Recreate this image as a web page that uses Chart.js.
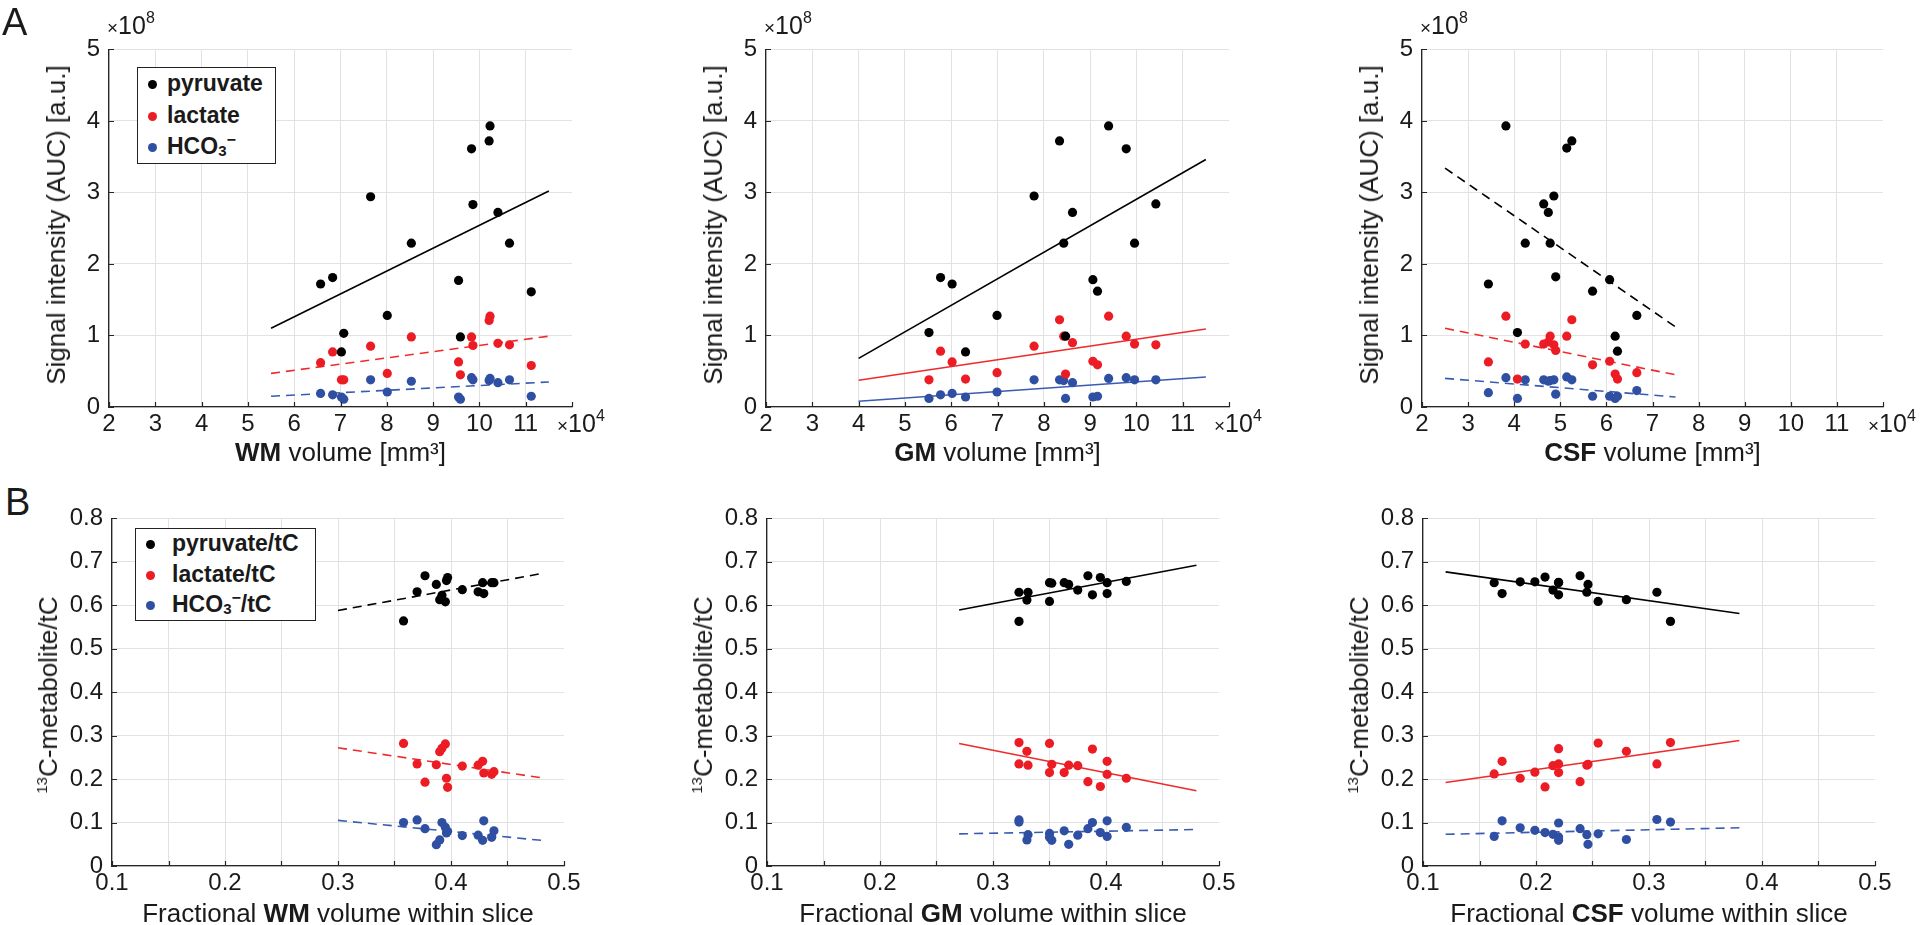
<!DOCTYPE html>
<html>
<head>
<meta charset="utf-8">
<script src="https://cdn.jsdelivr.net/npm/chart.js@4.4.1/dist/chart.umd.min.js"></script>
<style>
  body { margin: 0; background: #fff; width: 1920px; height: 925px; position: relative; overflow: hidden;
         font-family: "Liberation Sans", Arial, sans-serif; color: #1a1a1a; }
  canvas { position: absolute; }
  .txt { position: absolute; white-space: nowrap; line-height: 1; }
  .legend { position: absolute; border: 1.5px solid #222; background: #fff; box-sizing: border-box; }
  .legend div { position: absolute; white-space: nowrap; font-weight: bold; font-size: 23px; line-height: 1; }
  .dot { position: absolute; width: 9px; height: 9px; border-radius: 50%; }
</style>
</head>
<body>
<script>
'use strict';

// ---- panel A: absolute signal (x in 1e4 mm3, y in 1e8 a.u.) ----
const wmVol  = [6.57, 6.83, 7.02, 7.07, 7.65, 8.01, 8.53, 9.55, 9.59, 9.83, 9.86, 10.21, 10.23, 10.40, 10.65, 11.12];
const pyrWM  = [1.72, 1.81, 0.77, 1.03, 2.94, 1.28, 2.29, 1.77, 0.98, 3.61, 2.83, 3.72, 3.93, 2.72, 2.29, 1.61];
const lacWM  = [0.62, 0.77, 0.38, 0.38, 0.85, 0.47, 0.98, 0.63, 0.45, 0.98, 0.86, 1.21, 1.27, 0.89, 0.87, 0.58];
const bicWM  = [0.19, 0.17, 0.14, 0.11, 0.38, 0.21, 0.36, 0.14, 0.11, 0.41, 0.38, 0.37, 0.40, 0.34, 0.38, 0.15];

const gmVol  = [5.52, 5.77, 6.02, 6.31, 6.99, 7.79, 8.34, 8.43, 8.47, 8.62, 9.06, 9.16, 9.40, 9.78, 9.96, 10.42];
const pyrGM  = [1.04, 1.81, 1.72, 0.77, 1.28, 2.95, 3.72, 2.29, 0.99, 2.72, 1.78, 1.62, 3.93, 3.61, 2.29, 2.84];
const lacGM  = [0.38, 0.78, 0.63, 0.39, 0.48, 0.85, 1.22, 0.99, 0.46, 0.90, 0.64, 0.59, 1.27, 0.99, 0.88, 0.87];
const bicGM  = [0.12, 0.17, 0.19, 0.14, 0.21, 0.38, 0.38, 0.37, 0.12, 0.34, 0.14, 0.15, 0.40, 0.41, 0.38, 0.38];

const csfVol = [3.44, 3.82, 4.07, 4.24, 4.64, 4.74, 4.78, 4.86, 4.90, 5.14, 5.25, 5.70, 6.07, 6.19, 6.24, 6.66];
const pyrCSF = [1.72, 3.93, 1.04, 2.29, 2.84, 2.72, 2.29, 2.95, 1.82, 3.62, 3.72, 1.62, 1.78, 0.99, 0.78, 1.28];
const lacCSF = [0.63, 1.27, 0.39, 0.88, 0.88, 0.91, 0.99, 0.87, 0.79, 0.99, 1.22, 0.59, 0.64, 0.46, 0.39, 0.48];
const bicCSF = [0.20, 0.41, 0.12, 0.38, 0.38, 0.36, 0.37, 0.38, 0.18, 0.42, 0.38, 0.15, 0.15, 0.12, 0.15, 0.23];

// regression line end points
const fitWMx  = [5.5, 11.5];  const fitWMpyr  = [1.10, 3.02]; const fitWMlac  = [0.47, 0.99]; const fitWMbic  = [0.15, 0.35];
const fitGMx  = [4.0, 11.5];  const fitGMpyr  = [0.68, 3.46]; const fitGMlac  = [0.375, 1.09]; const fitGMbic = [0.08, 0.42];
const fitCSFx = [2.5, 7.5];   const fitCSFpyr = [3.34, 1.12]; const fitCSFlac = [1.10, 0.45]; const fitCSFbic = [0.40, 0.14];

// ---- panel B: fractions ----
const fracWM    = [0.358, 0.370, 0.377, 0.387, 0.390, 0.392, 0.395, 0.396, 0.397, 0.410, 0.424, 0.428, 0.429, 0.436, 0.438];
const pyrFracWM = [0.564, 0.631, 0.668, 0.648, 0.613, 0.623, 0.608, 0.657, 0.664, 0.636, 0.631, 0.652, 0.627, 0.652, 0.652];
const lacFracWM = [0.282, 0.235, 0.193, 0.233, 0.263, 0.271, 0.281, 0.202, 0.181, 0.230, 0.232, 0.241, 0.214, 0.211, 0.217];
const bicFracWM = [0.100, 0.106, 0.086, 0.049, 0.060, 0.100, 0.089, 0.076, 0.080, 0.070, 0.071, 0.059, 0.104, 0.066, 0.081];

const fracGM    = [0.323, 0.323, 0.330, 0.331, 0.350, 0.350, 0.352, 0.363, 0.367, 0.375, 0.384, 0.388, 0.395, 0.401, 0.401, 0.418];
const pyrFracGM = [0.563, 0.630, 0.612, 0.630, 0.609, 0.652, 0.651, 0.652, 0.648, 0.635, 0.668, 0.624, 0.664, 0.652, 0.627, 0.655];
const lacFracGM = [0.284, 0.235, 0.264, 0.232, 0.282, 0.215, 0.234, 0.215, 0.232, 0.231, 0.194, 0.269, 0.183, 0.241, 0.211, 0.202];
const bicFracGM = [0.106, 0.101, 0.060, 0.072, 0.075, 0.066, 0.059, 0.081, 0.050, 0.071, 0.086, 0.100, 0.077, 0.104, 0.068, 0.089];

const fracCSF    = [0.163, 0.170, 0.186, 0.199, 0.208, 0.215, 0.220, 0.220, 0.220, 0.239, 0.245, 0.246, 0.255, 0.280, 0.307, 0.319];
const pyrFracCSF = [0.652, 0.627, 0.654, 0.654, 0.665, 0.635, 0.653, 0.624, 0.652, 0.668, 0.630, 0.648, 0.609, 0.613, 0.630, 0.563];
const lacFracCSF = [0.212, 0.241, 0.202, 0.216, 0.182, 0.231, 0.235, 0.270, 0.215, 0.194, 0.232, 0.234, 0.283, 0.264, 0.235, 0.284];
const bicFracCSF = [0.068, 0.104, 0.088, 0.082, 0.077, 0.073, 0.099, 0.067, 0.059, 0.086, 0.072, 0.050, 0.074, 0.061, 0.107, 0.101];

const fitFWMx  = [0.30, 0.48]; const fitFWMpyr  = [0.588, 0.673]; const fitFWMlac  = [0.272, 0.203]; const fitFWMbic  = [0.105, 0.059];
const fitFGMx  = [0.27, 0.48]; const fitFGMpyr  = [0.589, 0.692]; const fitFGMlac  = [0.282, 0.173]; const fitFGMbic  = [0.074, 0.084];
const fitFCSFx = [0.12, 0.38]; const fitFCSFpyr = [0.677, 0.581]; const fitFCSFlac = [0.192, 0.289]; const fitFCSFbic = [0.073, 0.088];

// ---- ticks ----
const aXTicks  = [2, 3, 4, 5, 6, 7, 8, 9, 10, 11, 12];
const aXLabels = ['2', '3', '4', '5', '6', '7', '8', '9', '10', '11', ''];
const aYTicks  = [0, 1, 2, 3, 4, 5];
const aYLabels = ['0', '1', '2', '3', '4', '5'];
const bXTicks  = [0.1, 0.15, 0.2, 0.25, 0.3, 0.35, 0.4, 0.45, 0.5];
const bXLabels = ['0.1', '', '0.2', '', '0.3', '', '0.4', '', '0.5'];
const bYTicks  = [0, 0.1, 0.2, 0.3, 0.4, 0.5, 0.6, 0.7, 0.8];
const bYLabels = ['0', '0.1', '0.2', '0.3', '0.4', '0.5', '0.6', '0.7', '0.8'];

const dotColors  = ['#000000', '#ec1c24', '#2f4fa3'];
const lineColors = ['#000000', '#ee2b2b', '#3a5bb2'];

Chart.defaults.font.family = '"Liberation Sans", Arial, sans-serif';

const innerTicks = {
    id: 'innerTicks',
    afterDraw(chart) {
        const { ctx, chartArea: a, scales: { x, y } } = chart;
        ctx.save();
        ctx.strokeStyle = '#262626';
        ctx.lineWidth = 1.2;
        ctx.beginPath();
        x.ticks.forEach(t => {
            const px = Math.round(x.getPixelForValue(t.value)) + 0.5;
            ctx.moveTo(px, a.bottom); ctx.lineTo(px, a.bottom - 5);
        });
        y.ticks.forEach(t => {
            const py = Math.round(y.getPixelForValue(t.value)) + 0.5;
            ctx.moveTo(a.left, py); ctx.lineTo(a.left + 5, py);
        });
        ctx.stroke();
        ctx.restore();
    }
};

const makePanel = p => {
    const padL = 75, padT = 16, padR = 30, padB = 42;
    const [x0, y0, x1, y1] = p.rect;
    const cv = document.createElement('canvas');
    cv.width = x1 - x0 + padL + padR;
    cv.height = y1 - y0 + padT + padB;
    cv.style.left = (x0 - padL) + 'px';
    cv.style.top = (y0 - padT) + 'px';
    document.body.appendChild(cv);

    const datasets = [];
    p.ys.forEach((ys, i) => {
        datasets.push({
            type: 'scatter',
            data: p.x.map((x, j) => ({ x: x, y: ys[j] })),
            backgroundColor: dotColors[i],
            borderWidth: 0,
            pointRadius: 4.6,
            pointHoverRadius: 4.6
        });
    });
    p.fits.forEach((f, i) => {
        datasets.push({
            type: 'line',
            data: p.fitX.map((x, j) => ({ x: x, y: f[j] })),
            borderColor: lineColors[i],
            borderWidth: 1.6,
            borderDash: p.dash[i] ? [9, 6] : [],
            pointRadius: 0,
            fill: false
        });
    });

    const tickFont = { size: 24 };
    new Chart(cv, {
        type: 'scatter',
        data: { datasets: datasets },
        options: {
            responsive: false,
            animation: false,
            events: [],
            layout: { padding: { left: 0, top: padT, right: padR, bottom: 0 } },
            plugins: { legend: { display: false }, tooltip: { enabled: false } },
            scales: {
                x: {
                    type: 'linear',
                    min: p.xTicks[0],
                    max: p.xTicks[p.xTicks.length - 1],
                    afterBuildTicks: s => { s.ticks = p.xTicks.map(v => ({ value: v })); },
                    afterFit: s => { s.height = padB; },
                    ticks: {
                        autoSkip: false, maxRotation: 0, padding: 3,
                        color: '#1a1a1a', font: tickFont,
                        callback: (v, i) => p.xLabels[i]
                    },
                    grid: {
                        drawTicks: false,
                        lineWidth: 1,
                        color: c => (c.index === p.xTicks.length - 1 ? 'rgba(0,0,0,0)' : '#e2e2e2')
                    },
                    border: { color: '#262626', width: 1.3 }
                },
                y: {
                    type: 'linear',
                    min: p.yTicks[0],
                    max: p.yTicks[p.yTicks.length - 1],
                    afterBuildTicks: s => { s.ticks = p.yTicks.map(v => ({ value: v })); },
                    afterFit: s => { s.width = padL; },
                    ticks: {
                        autoSkip: false, padding: 9,
                        color: '#1a1a1a', font: tickFont,
                        callback: (v, i) => p.yLabels[i]
                    },
                    grid: { drawTicks: false, lineWidth: 1, color: '#e2e2e2' },
                    border: { color: '#262626', width: 1.3 }
                }
            }
        },
        plugins: [innerTicks]
    });
};

const addText = (html, x, y, style) => {
    const d = document.createElement('div');
    d.className = 'txt';
    d.innerHTML = html;
    d.style.left = x + 'px';
    d.style.top = y + 'px';
    Object.assign(d.style, style || {});
    document.body.appendChild(d);
    return d;
};

const aPanels = [
    { rect: [109, 42, 572, 407], x: wmVol,  ys: [pyrWM, lacWM, bicWM],    fitX: fitWMx,  fits: [fitWMpyr, fitWMlac, fitWMbic],    dash: [false, true, true],  tissue: 'WM' },
    { rect: [766, 42, 1229, 407], x: gmVol, ys: [pyrGM, lacGM, bicGM],    fitX: fitGMx,  fits: [fitGMpyr, fitGMlac, fitGMbic],    dash: [false, false, false], tissue: 'GM' },
    { rect: [1422, 42, 1883, 407], x: csfVol, ys: [pyrCSF, lacCSF, bicCSF], fitX: fitCSFx, fits: [fitCSFpyr, fitCSFlac, fitCSFbic], dash: [true, true, true], tissue: 'CSF' }
];
const bPanels = [
    { rect: [112, 511, 564, 866], x: fracWM,  ys: [pyrFracWM, lacFracWM, bicFracWM],    fitX: fitFWMx,  fits: [fitFWMpyr, fitFWMlac, fitFWMbic],    dash: [true, true, true],   tissue: 'WM' },
    { rect: [767, 511, 1219, 866], x: fracGM, ys: [pyrFracGM, lacFracGM, bicFracGM],    fitX: fitFGMx,  fits: [fitFGMpyr, fitFGMlac, fitFGMbic],    dash: [false, false, true], tissue: 'GM' },
    { rect: [1423, 511, 1875, 866], x: fracCSF, ys: [pyrFracCSF, lacFracCSF, bicFracCSF], fitX: fitFCSFx, fits: [fitFCSFpyr, fitFCSFlac, fitFCSFbic], dash: [false, false, true], tissue: 'CSF' }
];

const mult = n => '<span style="font-size:19px">×</span>10<span style="font-size:16px;position:relative;top:-11px">' + n + '</span>';

aPanels.forEach(p => {
    Object.assign(p, { xTicks: aXTicks, xLabels: aXLabels, yTicks: aYTicks, yLabels: aYLabels });
    makePanel(p);
    const [x0, y0, x1, y1] = p.rect;
    addText(mult(8), x0 - 2, 13, { fontSize: '25px' });
    addText(mult(4), x1 - 15, 411, { fontSize: '25px' });
    addText('<b>' + p.tissue + '</b> volume [mm³]', (x0 + x1) / 2, 452,
        { fontSize: '26px', transform: 'translate(-50%,-50%)' });
    addText('Signal intensity (AUC) [a.u.]', x0 - 53, (y0 + y1) / 2,
        { fontSize: '26px', transform: 'translate(-50%,-50%) rotate(-90deg)' });
});

bPanels.forEach(p => {
    Object.assign(p, { xTicks: bXTicks, xLabels: bXLabels, yTicks: bYTicks, yLabels: bYLabels });
    makePanel(p);
    const [x0, y0, x1, y1] = p.rect;
    addText('Fractional <b>' + p.tissue + '</b> volume within slice', (x0 + x1) / 2, 913,
        { fontSize: '26px', transform: 'translate(-50%,-50%)' });
    addText('<span style="font-size:15px;position:relative;top:-10px">13</span>C-metabolite/tC', x0 - 64, 695,
        { fontSize: '26px', transform: 'translate(-50%,-50%) rotate(-90deg)' });
});

// panel letters
addText('A', 2, 3, { fontSize: '38px' });
addText('B', 5, 483, { fontSize: '38px' });

// legends
const hco3 = 'HCO<span style="font-size:15px;position:relative;top:2px">3</span><span style="font-size:16px;position:relative;top:-9px">−</span>';
const makeLegend = (left, top, w, h, labels, rows, textX) => {
    const box = document.createElement('div');
    box.className = 'legend';
    Object.assign(box.style, { left: left + 'px', top: top + 'px', width: w + 'px', height: h + 'px' });
    labels.forEach((lab, i) => {
        const dot = document.createElement('span');
        dot.className = 'dot';
        Object.assign(dot.style, { left: (14 - 4.5) + 'px', top: (rows[i] - 4.5) + 'px', background: dotColors[i] });
        box.appendChild(dot);
        const t = document.createElement('div');
        t.innerHTML = lab;
        Object.assign(t.style, { left: textX + 'px', top: (rows[i] - 12) + 'px' });
        box.appendChild(t);
    });
    document.body.appendChild(box);
};
makeLegend(137, 67, 139, 97, ['pyruvate', 'lactate', hco3], [16, 48, 79], 29);
makeLegend(135, 528, 181, 93, ['pyruvate/tC', 'lactate/tC', hco3 + '/tC'], [15, 46, 76], 36);
</script>
</body>
</html>
